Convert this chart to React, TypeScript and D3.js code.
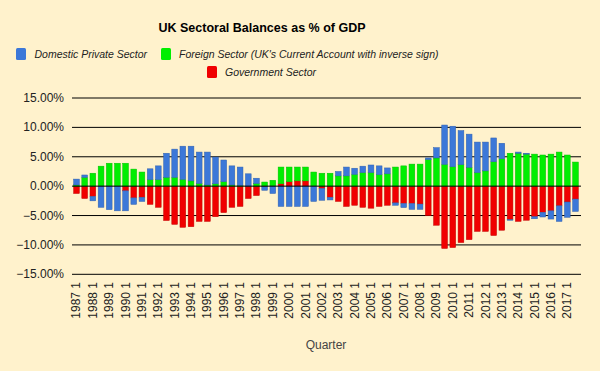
import React from 'react'
import * as d3 from 'd3'

// half-yearly observations, 1987 Q1 .. 2017 Q3
const years = d3.range(1987, 2018)
const quarters = years.flatMap(y => [`${y} 1`, `${y} 3`])

const privateBal = [
  1.0, 0.4, -0.75, -3.6, -4.0, -4.2, -3.4, -1.1, -0.7, 1.85,
  2.35, 4.1, 4.8, 5.65, 5.9, 5.35, 5.6, 4.55, 3.7, 3.25,
  3.15, 2.1, 0.9, -0.6, -1.25, -3.45, -3.45, -3.45, -3.45, -2.6,
  -2.0, -0.45, 0.75, 1.5, 1.05, 1.1, 1.3, 1.5, 1.0, -0.4,
  -0.7, -1.0, -0.9, 0.3, 1.75, 6.7, 6.9, 5.8, 5.65, 5.2,
  4.9, 4.05, 2.65, -0.1, 0.2, 0.15, -0.35, -0.8, -1.4, -2.65,
  -2.6, -2.1
]
const foreignBal = [
  0.2, 1.5, 2.2, 3.4, 3.9, 3.9, 3.9, 2.9, 2.4, 1.1,
  1.1, 1.5, 1.5, 1.15, 0.9, 0.45, 0.2, 0.4, 0.75, 0.2,
  0.1, 0.0, 0.45, 0.7, 1.0, 2.85, 2.5, 2.35, 2.35, 2.4,
  2.2, 2.2, 1.75, 1.75, 2.0, 2.3, 2.3, 1.95, 2.1, 3.25,
  3.45, 3.75, 3.75, 4.5, 4.8, 3.7, 3.3, 3.65, 3.2, 2.3,
  2.6, 4.15, 4.65, 5.6, 5.6, 5.45, 5.45, 5.3, 5.45, 5.8,
  5.3, 4.1
]
const govBal = [
  -1.25, -2.1, -1.75, 0, 0, 0, -0.8, -2.0, -1.9, -3.1,
  -3.6, -5.85, -6.5, -7.0, -6.9, -6.0, -6.0, -5.2, -4.5, -3.6,
  -3.45, -2.1, -1.6, -0.1, 0, 0.4, 0.75, 0.9, 0.9, 0,
  -0.4, -1.9, -2.6, -3.45, -3.25, -3.6, -3.75, -3.45, -3.25, -2.85,
  -2.95, -2.95, -3.05, -5.0, -6.65, -10.6, -10.45, -9.6, -9.1, -7.7,
  -7.7, -8.4, -7.5, -5.7, -6.0, -5.8, -5.2, -4.45, -4.2, -3.35,
  -2.7, -2.2
]

const yTicks = [15, 10, 5, 0, -5, -10, -15]

const seriesNames = ['Domestic Private Sector', "Foreign Sector (UK's Current Account with inverse sign)", 'Government Sector']
const seriesColors = ['#3c78d8', '#00ee00', '#f00000']

const W = 600
const H = 371
const font = "Arial, 'Liberation Sans', sans-serif"

export default function App() {
  const x = d3.scaleBand().domain(quarters).range([72, 580]).paddingInner(0.3).paddingOuter(0.2)
  const y = d3.scaleLinear().domain([-15, 15]).range([274.3, 98])

  const rows = quarters.map((q, i) => ({ q, priv: privateBal[i], fore: foreignBal[i], gov: govBal[i] }))
  // government sits next to zero, then foreign, then private on the outside
  const stack = d3.stack().keys(['gov', 'fore', 'priv']).offset(d3.stackOffsetDiverging)
  const layers = stack(rows)
  const colorOf = { priv: seriesColors[0], fore: seriesColors[1], gov: seriesColors[2] }

  const legend = [
    { sx: 16, tx: 34.5, y: 54, i: 0 },
    { sx: 161, tx: 179, y: 54, i: 1 },
    { sx: 207, tx: 225, y: 72, i: 2 },
  ]

  return (
    <svg width={W} height={H} style={{ position: 'fixed', left: 0, top: 0 }} fontFamily={font}>
      <rect width={W} height={H} fill="#fff2cc" />
      <text x={262} y={32} textAnchor="middle" fontSize={12.5} fontWeight="bold" fill="#000">
        UK Sectoral Balances as % of GDP
      </text>

      {legend.map(l => (
        <g key={l.i}>
          <rect x={l.sx} y={l.y - 6} width={10} height={12} rx={1.5} fill={seriesColors[l.i]} />
          <text x={l.tx} y={l.y + 4} fontSize={10.5} fontStyle="italic" fill="#222">{seriesNames[l.i]}</text>
        </g>
      ))}

      {yTicks.map(t => (
        <g key={t}>
          {t !== 0 && <line x1={72} x2={581} y1={y(t)} y2={y(t)} stroke="#000" strokeWidth={1} />}
          <text x={64} y={y(t) + 4} textAnchor="end" fontSize={12} fill="#222">
            {d3.format('.2f')(t) + '%'}
          </text>
        </g>
      ))}

      {layers.map(layer => (
        <g key={layer.key}>
          {layer.map((d, i) => {
            const c = colorOf[layer.key]
            const top = y(Math.max(d[0], d[1]))
            const h = Math.abs(y(d[0]) - y(d[1]))
            if (h < 0.01) return null
            return (
              <rect key={i} x={x(quarters[i])} y={top} width={x.bandwidth()} height={h}
                fill={c} stroke={d3.color(c).darker(0.6).toString()} strokeWidth={0.5} />
            )
          })}
        </g>
      ))}

      <line x1={72} x2={581} y1={y(0)} y2={y(0)} stroke="#000" strokeWidth={1} />

      {quarters.map((q, i) => i % 2 === 0 && (
        <text key={q} transform={`translate(${x(q) + x.bandwidth() / 2 + 4},282) rotate(-90)`}
          textAnchor="end" fontSize={12} fill="#222">{q}</text>
      ))}

      <text x={326} y={349} textAnchor="middle" fontSize={12} fill="#444">Quarter</text>
    </svg>
  )
}
